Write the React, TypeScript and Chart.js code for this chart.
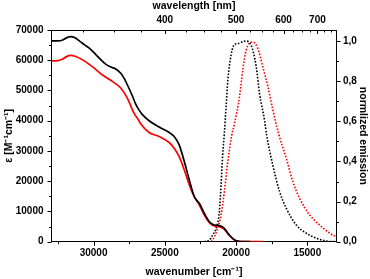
import React, { useEffect, useRef } from "react";
import { Chart, registerables } from "chart.js";

Chart.register(...registerables);

// Absorption (wavenumber cm-1 -> epsilon M-1 cm-1)
const absBlackWn = [33000, 32500, 32200, 31900, 31600, 31300, 31000, 30600, 30300, 29900, 29600, 29150, 28750, 28440, 28090, 27850, 27630, 27300, 27040, 26800, 26570, 26100, 25400, 24690, 24340, 23990, 23630, 23280, 22930, 22580, 22230, 21870, 21520, 21250, 21000, 20820, 20470, 20110, 19760, 19400, 19000];
const absBlackEps = [66400, 66400, 66600, 67400, 67800, 67400, 66400, 65000, 64000, 62200, 60700, 58700, 57700, 57100, 55700, 54000, 51900, 48500, 45500, 43500, 42000, 40000, 37900, 36100, 34800, 32000, 26500, 20400, 14900, 12700, 9400, 6600, 5500, 5400, 5000, 4400, 2200, 600, 100, 0, 0];

const absRedWn = [33000, 32500, 32200, 31900, 31600, 31300, 30800, 30090, 29390, 28680, 28090, 27630, 27160, 26800, 26680, 26100, 25400, 24690, 24340, 23990, 23630, 23280, 22930, 22580, 22230, 21870, 21520, 21170, 20820, 20470, 20110, 19760, 19300, 18100];
const absRedEps = [59800, 59900, 60300, 61200, 61600, 61300, 60200, 57900, 55200, 53000, 50800, 47500, 42500, 39900, 38900, 36100, 34800, 32800, 30900, 28100, 23700, 18800, 14900, 12200, 8800, 6300, 5200, 5000, 4100, 2050, 560, 50, 0, 0];

// Normalized emission
const emBlackWn = [22230, 21870, 21640, 21400, 21170, 21050, 20940, 20820, 20700, 20580, 20350, 20110, 19880, 19600, 19340, 18940, 18580, 18350, 18000, 17850, 17420, 16940, 16470, 15770, 15060, 14360, 13650, 12950];
const emBlackVal = [0, 0.008, 0.033, 0.067, 0.149, 0.282, 0.431, 0.54, 0.67, 0.8, 0.93, 0.983, 0.987, 0.995, 1.0, 0.979, 0.871, 0.738, 0.605, 0.53, 0.382, 0.249, 0.166, 0.083, 0.042, 0.017, 0.003, 0];

const emRedWn = [21750, 21520, 21290, 21050, 20820, 20580, 20300, 20110, 19760, 19530, 19290, 18820, 18470, 18120, 17760, 17410, 17000, 16470, 16010, 15540, 14830, 14130, 13420, 12950];
const emRedVal = [0, 0.025, 0.067, 0.133, 0.249, 0.398, 0.53, 0.589, 0.721, 0.854, 0.954, 0.995, 0.962, 0.871, 0.771, 0.655, 0.535, 0.415, 0.299, 0.216, 0.133, 0.083, 0.042, 0.025];

// Tick labels
const wnTicks = [30000, 25000, 20000, 15000];
const wnMinor = [32500, 27500, 22500, 17500, 13750].slice(0, 4);
const nmTicks = [400, 500, 600, 700];
const nmMinor = [325, 350, 375, 425, 450, 475, 525, 550, 575, 625, 650, 675, 725, 750, 775];
const epsTicks = [0, 10000, 20000, 30000, 40000, 50000, 60000, 70000];
const emTicks = [0, 0.2, 0.4, 0.6, 0.8, 1.0];

const FONT = "'Liberation Sans', Arial, sans-serif";
const WN_MIN = 12950;
const WN_MAX = 32950;

const toXY = (xs: number[], ys: number[]) => xs.map((x, i) => ({ x, y: ys[i] }));

const tickPlugin = {
  id: "customTicks",
  afterDraw(chart: any) {
    const ctx = chart.ctx;
    const { left, right, top, bottom } = chart.chartArea;
    const sx = chart.scales.x;
    const sy = chart.scales.y;
    const sy2 = chart.scales.y2;
    ctx.save();
    ctx.strokeStyle = "#000";
    ctx.lineWidth = 1;
    ctx.beginPath();
    // bottom
    wnTicks.forEach((v) => {
      const p = Math.round(sx.getPixelForValue(v)) + 0.5;
      ctx.moveTo(p, bottom); ctx.lineTo(p, bottom + 4);
    });
    [32500, 27500, 22500, 17500].forEach((v) => {
      const p = Math.round(sx.getPixelForValue(v)) + 0.5;
      ctx.moveTo(p, bottom); ctx.lineTo(p, bottom + 2.5);
    });
    // top (inward)
    nmTicks.forEach((nm) => {
      const p = Math.round(sx.getPixelForValue(1e7 / nm)) + 0.5;
      ctx.moveTo(p, top); ctx.lineTo(p, top + 4);
    });
    nmMinor.forEach((nm) => {
      const v = 1e7 / nm;
      if (v < WN_MIN || v > WN_MAX) return;
      const p = Math.round(sx.getPixelForValue(v)) + 0.5;
      ctx.moveTo(p, top); ctx.lineTo(p, top + 2.5);
    });
    // left
    epsTicks.forEach((v) => {
      const p = Math.round(sy.getPixelForValue(v)) + 0.5;
      ctx.moveTo(left, p); ctx.lineTo(left - 4, p);
    });
    [5000, 15000, 25000, 35000, 45000, 55000, 65000].forEach((v) => {
      const p = Math.round(sy.getPixelForValue(v)) + 0.5;
      ctx.moveTo(left, p); ctx.lineTo(left - 2.5, p);
    });
    // right
    emTicks.forEach((v) => {
      const p = Math.round(sy2.getPixelForValue(v)) + 0.5;
      ctx.moveTo(right, p); ctx.lineTo(right + 4, p);
    });
    [0.1, 0.3, 0.5, 0.7, 0.9].forEach((v) => {
      const p = Math.round(sy2.getPixelForValue(v)) + 0.5;
      ctx.moveTo(right, p); ctx.lineTo(right + 2.5, p);
    });
    ctx.stroke();
    ctx.restore();
  },
};

export default function App() {
  const ref = useRef<HTMLCanvasElement | null>(null);

  useEffect(() => {
    if (!ref.current) return;
    const tickFont = { family: FONT, size: 10, weight: "bold" as const };
    const titleFont = { family: FONT, size: 10.5, weight: "bold" as const };
    const gridOff = { display: true, drawOnChartArea: false, drawTicks: false };
    const border = { display: true, color: "#000", width: 1 };

    const chart = new Chart(ref.current, {
      type: "line",
      data: {
        datasets: [
          {
            data: toXY(absBlackWn, absBlackEps),
            borderColor: "#000000",
            borderWidth: 1.7,
            pointRadius: 0,
            cubicInterpolationMode: "monotone",
            yAxisID: "y",
          },
          {
            data: toXY(absRedWn, absRedEps),
            borderColor: "#ff0000",
            borderWidth: 1.7,
            pointRadius: 0,
            cubicInterpolationMode: "monotone",
            yAxisID: "y",
          },
          {
            data: toXY(emBlackWn, emBlackVal),
            borderColor: "#000000",
            borderWidth: 1.6,
            borderDash: [1.6, 1.6],
            pointRadius: 0,
            cubicInterpolationMode: "monotone",
            yAxisID: "y2",
          },
          {
            data: toXY(emRedWn, emRedVal),
            borderColor: "#ff0000",
            borderWidth: 1.6,
            borderDash: [1.6, 1.6],
            pointRadius: 0,
            cubicInterpolationMode: "monotone",
            yAxisID: "y2",
          },
        ],
      },
      options: {
        animation: false,
        responsive: true,
        maintainAspectRatio: false,
        layout: { padding: 0 },
        plugins: { legend: { display: false }, tooltip: { enabled: false } },
        scales: {
          x: {
            type: "linear",
            position: "bottom",
            reverse: true,
            min: WN_MIN,
            max: WN_MAX,
            afterBuildTicks: (s: any) => { s.ticks = wnTicks.map((v) => ({ value: v })); },
            afterFit: (s: any) => { s.height = 37.3; },
            ticks: { font: tickFont, color: "#000", padding: 5.6, maxRotation: 0, autoSkip: false, callback: (v: any) => String(v) },
            grid: gridOff,
            border,
            title: { display: true, text: "wavenumber [cm⁻¹]", font: titleFont, color: "#000", padding: { top: 0, bottom: 0.5 } },
          },
          x2: {
            type: "linear",
            position: "top",
            reverse: true,
            min: WN_MIN,
            max: WN_MAX,
            afterBuildTicks: (s: any) => { s.ticks = nmTicks.map((nm) => ({ value: 1e7 / nm })); },
            afterFit: (s: any) => { s.height = 30; },
            ticks: { font: tickFont, color: "#000", padding: 4, maxRotation: 0, autoSkip: false, callback: (v: any) => String(Math.round(1e7 / v)) },
            grid: gridOff,
            border,
            title: { display: true, text: "wavelength [nm]", font: titleFont, color: "#000", padding: { top: 0, bottom: 0 } },
          },
          y: {
            type: "linear",
            position: "left",
            min: 0,
            max: 70000,
            afterBuildTicks: (s: any) => { s.ticks = epsTicks.map((v) => ({ value: v })); },
            afterFit: (s: any) => { s.width = 51.5; },
            ticks: { font: tickFont, color: "#000", padding: 8, autoSkip: false, callback: (v: any) => String(v) },
            grid: gridOff,
            border,
            title: { display: true, text: "ε [M⁻¹cm⁻¹]", font: titleFont, color: "#000", padding: { top: 2.5, bottom: 0 } },
          },
          y2: {
            type: "linear",
            position: "right",
            min: 0,
            max: 1.055,
            afterBuildTicks: (s: any) => { s.ticks = emTicks.map((v) => ({ value: v })); },
            afterFit: (s: any) => { s.width = 33.5; },
            ticks: { font: tickFont, color: "#000", padding: 6.5, autoSkip: false, callback: (v: any) => Number(v).toFixed(1).replace(".", ",") },
            grid: gridOff,
            border,
            title: { display: true, text: "normlized emission", font: titleFont, color: "#000", padding: { top: 0.7, bottom: 0 } },
          },
        },
      } as any,
      plugins: [tickPlugin],
    });
    return () => chart.destroy();
  }, []);

  return (
    <div style={{ position: "fixed", left: 0, top: 0, width: 370, height: 279, background: "#fff" }}>
      <canvas ref={ref} />
    </div>
  );
}
